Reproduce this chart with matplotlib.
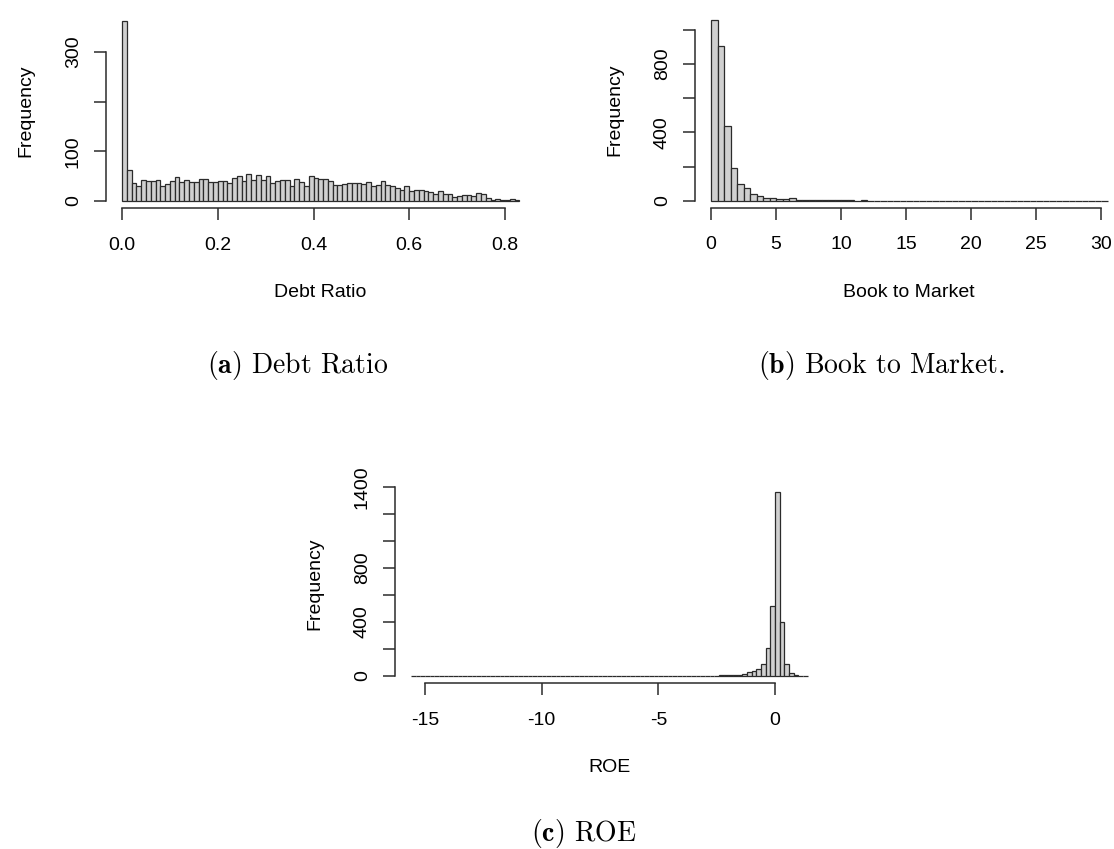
import numpy as np
import matplotlib
matplotlib.use("Agg")
import matplotlib.pyplot as plt

# ---- data (histogram counts) ----
# debt ratio: bins of 0.01 starting at 0
debt_start, debt_width = 0.0, 0.01
debt_counts = [363, 63, 37, 31, 42, 41, 40, 43, 30, 35,
               41, 49, 38, 43, 38, 38, 45, 45, 39, 39,
               41, 40, 36, 47, 51, 41, 55, 42, 53, 43,
               51, 37, 41, 43, 43, 31, 45, 38, 31, 50,
               47, 45, 45, 40, 32, 33, 35, 36, 36, 37,
               35, 39, 31, 33, 41, 33, 30, 27, 23, 31,
               21, 23, 22, 20, 19, 15, 20, 15, 14, 9,
               11, 13, 13, 11, 17, 14, 7, 2, 4, 3,
               3, 5, 3]

# book to market: bins of 0.5 starting at 0
bm_start, bm_width = 0.0, 0.5
bm_counts = [1061, 905, 437, 190, 96, 72, 37, 25, 18, 14,
             12, 12, 15, 6, 5, 4, 5, 2, 2, 3,
             2, 2, 1, 2, 1, 0, 1, 1, 0, 1,
             1, 0, 1, 0, 0, 1, 0, 0, 1, 0,
             0, 0, 1, 0, 0, 0, 0, 1, 0, 0,
             0, 0, 0, 0, 0, 0, 0, 0, 0, 0,
             1]

# ROE: bins of 0.2 starting at -15.6
roe_start, roe_width = -15.6, 0.2
roe_counts = [1, 0, 0, 0, 0, 0, 0, 0, 0, 0,
              0, 0, 0, 0, 0, 0, 0, 0, 0, 0,
              0, 0, 0, 0, 0, 0, 0, 0, 1, 0,
              0, 0, 0, 0, 0, 0, 0, 0, 0, 0,
              0, 0, 0, 0, 0, 1, 0, 0, 0, 0,
              1, 0, 0, 0, 0, 0, 0, 3, 1, 1,
              2, 1, 2, 2, 3, 3, 4, 5, 6, 8,
              10, 18, 26, 39, 52, 92, 205, 522, 1365, 399,
              87, 21, 8, 3, 1]

debt_xticks = [0.0, 0.2, 0.4, 0.6, 0.8]
debt_xlabels = ["0.0", "0.2", "0.4", "0.6", "0.8"]
debt_yticks = [0, 100, 200, 300]
debt_ylabels = ["0", "100", "", "300"]

bm_xticks = [0, 5, 10, 15, 20, 25, 30]
bm_xlabels = ["0", "5", "10", "15", "20", "25", "30"]
bm_yticks = [0, 200, 400, 600, 800, 1000]
bm_ylabels = ["0", "", "400", "", "800", ""]

roe_xticks = [-15, -10, -5, 0]
roe_xlabels = ["-15", "-10", "-5", "0"]
roe_yticks = [0, 200, 400, 600, 800, 1000, 1200, 1400]
roe_ylabels = ["0", "", "400", "", "800", "", "", "1400"]

W, H = 1114, 849
plt.rcParams['font.family'] = 'Liberation Sans'
plt.rcParams['mathtext.fontset'] = 'cm'

fig = plt.figure(figsize=(W / 100, H / 100), dpi=100)
ink = '#2b2b2b'


def r_hist(start, width, counts, anchors, xticks, xlabels, yticks, ylabels, xlabel):
    """R-style hist: 4% padded ranges, axes drawn only between end ticks."""
    counts = np.asarray(counts)
    edges = start + width * np.arange(len(counts) + 1)
    xr = edges[-1] - edges[0]
    xlim = (edges[0] - 0.04 * xr, edges[-1] + 0.04 * xr)
    ylim = (-0.04 * counts.max(), 1.04 * counts.max())

    # anchors: two x values with pixel columns, two y values with pixel rows
    (xv0, xp0, xv1, xp1), (yv0, yp0, yv1, yp1) = anchors
    sx = (xp1 - xp0) / (xv1 - xv0)
    sy = (yp0 - yp1) / (yv1 - yv0)
    left = xp0 + (xlim[0] - xv0) * sx
    right = xp0 + (xlim[1] - xv0) * sx
    bottom = yp0 - (ylim[0] - yv0) * sy
    top = yp0 - (ylim[1] - yv0) * sy
    ax = fig.add_axes([left / W, 1 - bottom / H, (right - left) / W, (bottom - top) / H])

    ax.bar(edges[:-1], counts, width=width, align='edge',
           color='#d0d0d0', edgecolor=ink, linewidth=0.9)
    ax.set_xlim(xlim)
    ax.set_ylim(ylim)

    for s in ['top', 'right']:
        ax.spines[s].set_visible(False)
    ax.spines['left'].set_bounds(yticks[0], yticks[-1])
    ax.spines['bottom'].set_bounds(xticks[0], xticks[-1])
    for s in ['left', 'bottom']:
        ax.spines[s].set_color(ink)
        ax.spines[s].set_linewidth(1.1)

    ax.set_xticks(xticks, xlabels)
    ax.set_yticks(yticks, ylabels)
    ax.tick_params(direction='out', length=8.5, width=1.1, color=ink,
                   labelsize=14, labelcolor='black')
    ax.tick_params(axis='x', pad=12)
    ax.tick_params(axis='y', pad=9)
    for lab in ax.get_yticklabels():
        lab.set_rotation(90)
        lab.set_va('center')

    ax.set_xlabel(xlabel, fontsize=14, labelpad=22)
    ax.set_ylabel("Frequency", fontsize=14, labelpad=22)
    return ax


r_hist(debt_start, debt_width, debt_counts,
       ((0.0, 122, 0.8, 505), (0, 201, 300, 52)),
       debt_xticks, debt_xlabels, debt_yticks, debt_ylabels, "Debt Ratio")

r_hist(bm_start, bm_width, bm_counts,
       ((0, 711, 30, 1101), (0, 200.7, 1000, 30)),
       bm_xticks, bm_xlabels, bm_yticks, bm_ylabels, "Book to Market")

r_hist(roe_start, roe_width, roe_counts,
       ((-15, 425, 0, 775), (0, 676, 1400, 487)),
       roe_xticks, roe_xlabels, roe_yticks, roe_ylabels, "ROE")

# LaTeX-like subfigure captions
cap = dict(fontfamily='cmr10', fontsize=20, ha='center', va='center')
fig.text(298 / W, 1 - 366 / H, r'$\mathbf{(a)}$ Debt Ratio', **cap)
fig.text(881 / W, 1 - 366 / H, r'$\mathbf{(b)}$ Book to Market.', **cap)
fig.text(584 / W, 1 - 834 / H, r'$\mathbf{(c)}$ ROE', **cap)

fig.savefig("out.png", dpi=100)
